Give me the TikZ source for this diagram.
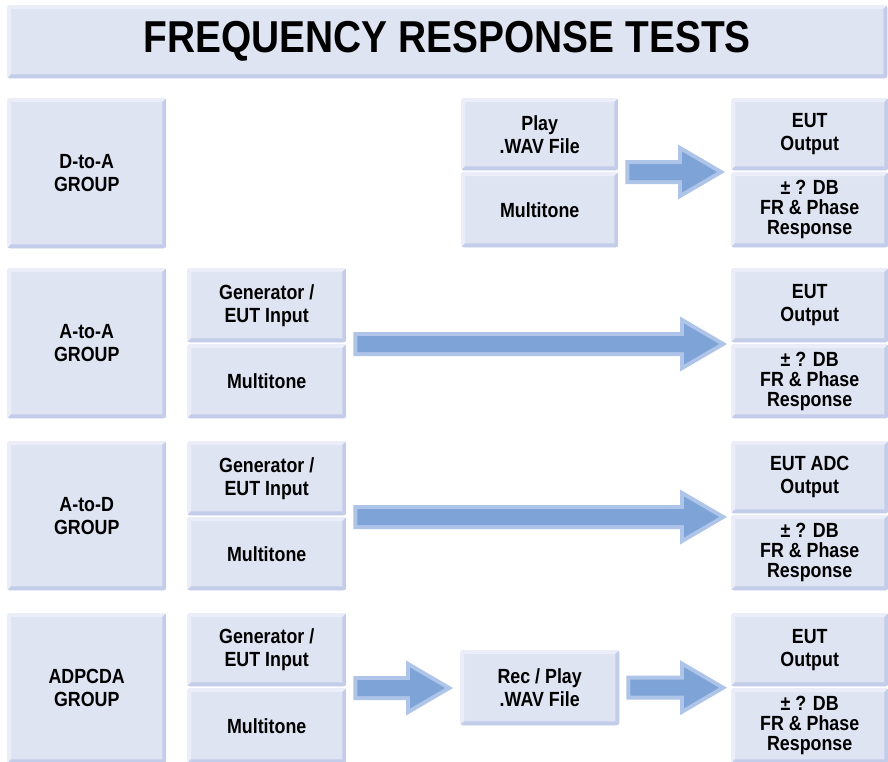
\documentclass[tikz,border=0pt]{standalone}
\usepackage{fontspec}
\setmainfont{Liberation Sans}[FakeStretch=0.87]
\usetikzlibrary{calc}

\definecolor{boxface}{HTML}{DFE4F3}
\definecolor{boxlight}{HTML}{EBEEF8}
\definecolor{boxdark}{HTML}{C3CDEA}
\definecolor{arrface}{HTML}{7EA3D6}
\definecolor{arredge}{HTML}{AEC4E8}

\tikzset{
  panel/.style={rounded corners=3pt, fill=boxface, anchor=north west,
    inner sep=0pt, align=center,
    font=\bfseries\fontsize{20.5}{23}\selectfont},
  threeline/.style={font=\bfseries\fontsize{20.5}{20}\selectfont},
  headline/.style={font=\bfseries\fontsize{44.7}{50}\selectfont}
}

% bevelled edges of a panel: light top/left, dark right/bottom
\newcommand\bevel[1]{%
  \begin{scope}
    \clip[rounded corners=3pt] (#1.north west) rectangle (#1.south east);
    \fill[boxlight] (#1.north west) -- (#1.north east) -- ([shift={(-4,4)}]#1.north east)
      -- ([shift={(4,4)}]#1.north west) -- cycle;
    \fill[boxlight] (#1.north west) -- (#1.south west) -- ([shift={(4,-4)}]#1.south west)
      -- ([shift={(4,4)}]#1.north west) -- cycle;
    \fill[boxdark] (#1.north east) -- (#1.south east) -- ([shift={(-4,-4)}]#1.south east)
      -- ([shift={(-4,4)}]#1.north east) -- cycle;
    \fill[boxdark] (#1.south west) -- (#1.south east) -- ([shift={(-4,-4)}]#1.south east)
      -- ([shift={(4,-4)}]#1.south west) -- cycle;
  \end{scope}}

% block arrow from a start point to a tip, drawn at the start point's height
\newcommand\blockarrow[2]{%
  \fill[arredge] let \p1=(#1), \p2=(#2) in
    ({\x1},{\y1+12pt}) -- ({\x2-47pt},{\y1+12pt}) -- ({\x2-47pt},{\y1+27.5pt})
    -- ({\x2},{\y1}) -- ({\x2-47pt},{\y1-27.5pt}) -- ({\x2-47pt},{\y1-12pt})
    -- ({\x1},{\y1-12pt}) -- cycle;
  \fill[arrface] let \p1=(#1), \p2=(#2) in
    ({\x1+4pt},{\y1+8pt}) -- ({\x2-43pt},{\y1+8pt}) -- ({\x2-43pt},{\y1+20.5pt})
    -- ({\x2-8pt},{\y1}) -- ({\x2-43pt},{\y1-20.5pt}) -- ({\x2-43pt},{\y1-8pt})
    -- ({\x1+4pt},{\y1-8pt}) -- cycle;}

\begin{document}
\begin{tikzpicture}[x=1pt,y=-1pt]
\useasboundingbox (0,0) rectangle (888,761);
\fill[white] (0,0) rectangle (888,761);

% heading
\node[panel, headline, minimum width=880, minimum height=73] (title) at (7,5)
  {FREQUENCY RESPONSE TESTS};

% group labels
\node[panel, minimum width=159, minimum height=150] (g1) at (7,98)  {D-to-A\\GROUP};
\node[panel, minimum width=159, minimum height=150] (g2) at (7,268) {A-to-A\\GROUP};
\node[panel, minimum width=159, minimum height=149] (g3) at (7,441) {A-to-D\\GROUP};
\node[panel, minimum width=159, minimum height=150] (g4) at (7,613) {ADPCDA\\GROUP};

% row 1: D-to-A
\node[panel, minimum width=157, minimum height=72] (play1)  at (461,98)  {Play\\.WAV File};
\node[panel, minimum width=157, minimum height=75] (multi1) at (461,172) {Multitone};
\node[panel, minimum width=157, minimum height=72] (out1)   at (731,98)  {EUT\\Output};
\node[panel, threeline, minimum width=157, minimum height=75] (fr1) at (731,172)
  {± ? DB\\FR \& Phase\\Response};

% row 2: A-to-A
\node[panel, minimum width=159, minimum height=74] (gen2)   at (187,268) {Generator /\\EUT Input};
\node[panel, minimum width=159, minimum height=74] (multi2) at (187,344) {Multitone};
\node[panel, minimum width=157, minimum height=74] (out2)   at (731,268) {EUT\\Output};
\node[panel, threeline, minimum width=157, minimum height=74] (fr2) at (731,344)
  {± ? DB\\FR \& Phase\\Response};

% row 3: A-to-D
\node[panel, minimum width=159, minimum height=74] (gen3)   at (187,441) {Generator /\\EUT Input};
\node[panel, minimum width=159, minimum height=73] (multi3) at (187,517) {Multitone};
\node[panel, minimum width=157, minimum height=72] (out3)   at (731,441) {EUT ADC\\Output};
\node[panel, threeline, minimum width=157, minimum height=75] (fr3) at (731,515)
  {± ? DB\\FR \& Phase\\Response};

% row 4: ADPCDA
\node[panel, minimum width=159, minimum height=73] (gen4)   at (187,613) {Generator /\\EUT Input};
\node[panel, minimum width=159, minimum height=75] (multi4) at (187,688) {Multitone};
\node[panel, minimum width=159, minimum height=75] (rec4)   at (460,650) {Rec / Play\\.WAV File};
\node[panel, minimum width=157, minimum height=73] (out4)   at (731,613) {EUT\\Output};
\node[panel, threeline, minimum width=157, minimum height=75] (fr4) at (731,688)
  {± ? DB\\FR \& Phase\\Response};

\foreach \n in {title,g1,g2,g3,g4,play1,multi1,out1,fr1,gen2,multi2,out2,fr2,
                gen3,multi3,out3,fr3,gen4,multi4,rec4,out4,fr4}
  {\bevel{\n}}

% flow arrows
\blockarrow{[xshift=7]multi1.north east}{[xshift=-6]fr1.north west}
\blockarrow{[xshift=7]multi2.north east}{[xshift=-4]fr2.north west}
\blockarrow{[xshift=7]multi3.north east}{[xshift=-4]fr3.north west}
\blockarrow{[xshift=7]multi4.north east}{[xshift=-7]rec4.west}
\blockarrow{[xshift=7]rec4.east}{[xshift=-4]fr4.north west}
\end{tikzpicture}
\end{document}
